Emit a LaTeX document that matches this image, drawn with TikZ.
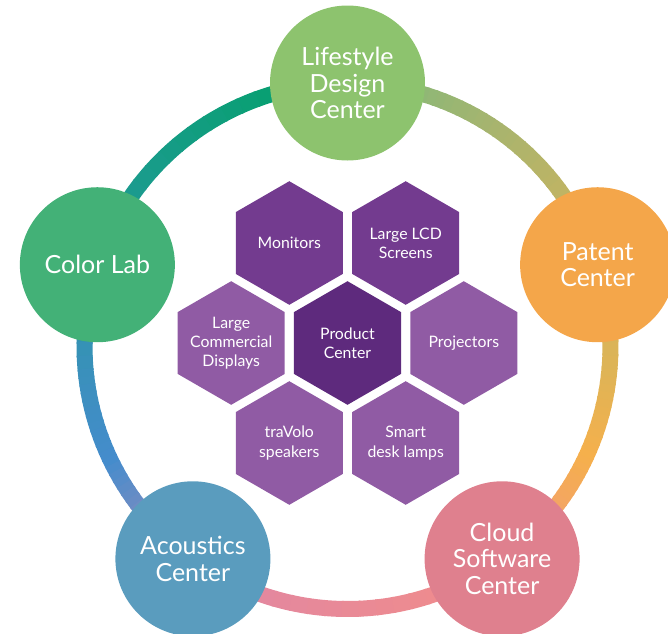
\documentclass[tikz,border=0pt]{standalone}
\usepackage{fontspec}
\setmainfont{Lato}
\usepackage{xcolor}
\usetikzlibrary{shapes.geometric}

\definecolor{lifegreen}{HTML}{8DC36E}
\definecolor{labgreen}{HTML}{43B177}
\definecolor{patentorange}{HTML}{F4A64A}
\definecolor{acousticblue}{HTML}{5A9CBE}
\definecolor{cloudpink}{HTML}{DF808E}
\definecolor{hexdark}{HTML}{733B8F}
\definecolor{hexlight}{HTML}{905BA4}
\definecolor{hexcore}{HTML}{5E2A7D}
\definecolor{rgA}{HTML}{E4889E}
\definecolor{rgB}{HTML}{F08C8C}
\definecolor{rgC}{HTML}{F3A26A}
\definecolor{rgD}{HTML}{F5B04C}
\definecolor{rgE}{HTML}{DDB457}
\definecolor{rgF}{HTML}{C4B462}
\definecolor{rgG}{HTML}{A8B46E}
\definecolor{rgH}{HTML}{88B878}
\definecolor{rgI}{HTML}{07A070}
\definecolor{rgJ}{HTML}{1F9A94}
\definecolor{rgK}{HTML}{3A90BC}
\definecolor{rgL}{HTML}{458CCC}
\definecolor{rgM}{HTML}{8A8CBE}

\tikzset{
  ring/.style={line width=16pt},
  hub/.style={circle, minimum size=155pt, inner sep=0pt, text=white, align=center,
    font=\fontsize{25}{26.7}\selectfont},
  hex/.style={regular polygon, regular polygon sides=6, shape border rotate=30,
    minimum size=123.6pt, inner sep=-12pt, text=white, align=center,
    font=\fontsize{15.8}{19.3}\selectfont}
}

\begin{document}
\begin{tikzpicture}[x=1pt, y=1pt]
\clip (-347.5,-287) rectangle (320.5,346);
\foreach \sa/\sb/\ca/\cb in {250/295/rgA/rgB, 295/318/rgB/rgC, 318/335/rgC/rgD,
    335/355/rgD/rgE, 355/390/rgE/rgF, 390/415/rgF/rgG, 415/438/rgG/rgH,
    438/462/rgH/rgI, 462/510/rgI/rgJ, 510/545/rgJ/rgK, 545/565/rgK/rgL,
    565/585/rgL/rgM, 585/610/rgM/rgA}{
  \foreach \k in {0,...,11}{
    \pgfmathsetmacro\ang{\sa+(\sb-\sa)*\k/12}
    \pgfmathsetmacro\dlt{(\sb-\sa)/12+0.4}
    \pgfmathtruncatemacro\mix{100-100*\k/12}
    \draw[ring, color=\ca!\mix!\cb] (\ang:263) arc[start angle=\ang, delta angle=\dlt, radius=263];
  }
}
\node[hub, fill=lifegreen] (life) at (90:263) {Lifestyle\\Design\\Center};
\node[hub, fill=patentorange] (patent) at (18:263) {Patent\\Center};
\node[hub, fill=cloudpink] (cloud) at (306:263) {Cloud\\Software\\Center};
\node[hub, fill=acousticblue] (acoustic) at (234:263) {Acoustics\\Center};
\node[hub, fill=labgreen] (colorlab) at (162:263) {Color Lab};

\node[hex, fill=hexcore] (product) at (0,3) {Product\\Center};
\node[hex, fill=hexdark] (monitors) at (-58.2,103) {Monitors};
\node[hex, fill=hexdark] (lcd) at (58.2,103) {Large LCD\\Screens};
\node[hex, fill=hexlight] (commercial) at (-116.3,3) {Large\\Commercial\\Displays};
\node[hex, fill=hexlight] (projectors) at (116.3,3) {Projectors};
\node[hex, fill=hexlight] (travolo) at (-58.2,-97) {traVolo\\speakers};
\node[hex, fill=hexlight] (lamps) at (58.2,-97) {Smart\\desk lamps};
\end{tikzpicture}
\end{document}
